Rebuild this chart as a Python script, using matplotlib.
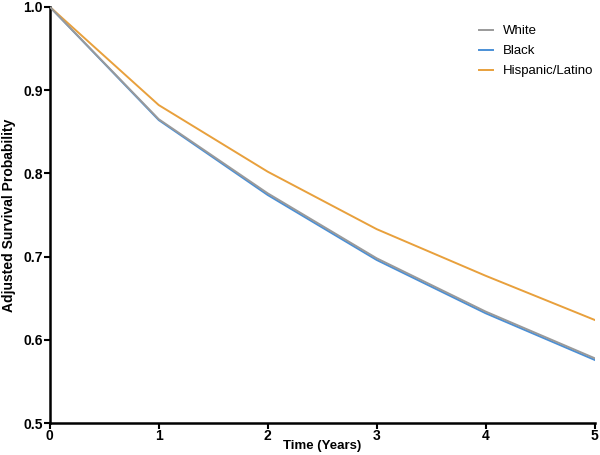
import matplotlib
matplotlib.use('Agg')
import matplotlib.pyplot as plt

years = [0, 1, 2, 3, 4, 5]
white = [1.0, 0.865, 0.776, 0.698, 0.634, 0.578]
black = [1.0, 0.864, 0.774, 0.696, 0.632, 0.576]
hispanic = [1.0, 0.882, 0.802, 0.733, 0.677, 0.624]

plt.rcParams['font.family'] = ['Liberation Sans', 'DejaVu Sans']

fig = plt.figure(figsize=(6, 4.55), dpi=100)
ax = fig.add_axes([0.083, 0.07, 0.908, 0.915])

ax.plot(years, white, color='#9a9a9a', lw=1.4, label='White', zorder=3)
ax.plot(years, black, color='#4a8fd6', lw=1.4, label='Black')
ax.plot(years, hispanic, color='#e8a03c', lw=1.4, label='Hispanic/Latino')

ax.set_xlim(0, 5)
ax.set_ylim(0.5, 1.0)
ax.set_xticks(years)
ax.set_yticks([0.5, 0.6, 0.7, 0.8, 0.9, 1.0])
ax.set_yticklabels(['0.5', '0.6', '0.7', '0.8', '0.9', '1.0'])

for s in ['top', 'right']:
    ax.spines[s].set_visible(False)
for s in ['left', 'bottom']:
    ax.spines[s].set_linewidth(1.8)
ax.tick_params(width=1.5, length=4, labelsize=10)
ax.tick_params(axis='x', pad=0)
ax.tick_params(axis='y', pad=1)
for lbl in ax.get_xticklabels() + ax.get_yticklabels():
    lbl.set_fontweight('bold')

ax.set_xlabel('Time (Years)', fontsize=9.5, fontweight='bold', labelpad=-2)
ax.set_ylabel('Adjusted Survival Probability', fontsize=10, fontweight='bold', labelpad=5)

ax.legend(loc='upper right', bbox_to_anchor=(1.02, 0.985), frameon=False, fontsize=9.5,
          handlelength=1.0, handletextpad=0.8, labelspacing=0.6)

fig.savefig('out.png', dpi=100)
